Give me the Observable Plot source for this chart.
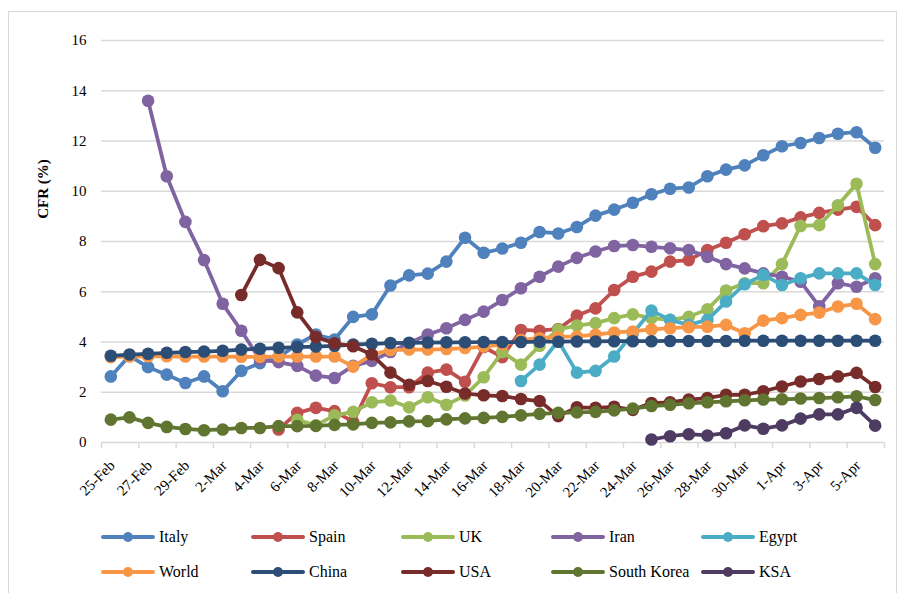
<!DOCTYPE html>
<html><head><meta charset="utf-8">
<script src="https://cdn.jsdelivr.net/npm/d3@7"></script>
<script src="https://cdn.jsdelivr.net/npm/@observablehq/plot@0.6"></script>
<style>
body{margin:0;background:#fff;}
#wrap{position:relative;width:903px;height:593px;overflow:hidden;font-family:"Liberation Serif",serif;background:#fff;}
#frame{position:absolute;left:8px;top:11px;width:889px;height:640px;border:1.5px solid #d9d9d9;box-sizing:border-box;}
#chart{position:absolute;left:0;top:0;}
#ylabel{position:absolute;left:43px;top:189px;transform:translate(-50%,-50%) rotate(-90deg);font-weight:bold;font-size:15px;white-space:nowrap;color:#000;}
.item{position:absolute;display:flex;align-items:center;font-size:16px;color:#000;transform:translateY(-50%);white-space:nowrap;}
.item svg{margin-right:3px;}
</style></head><body>
<div id="wrap"><div id="frame"></div><div id="chart"></div><div id="ylabel">CFR (%)</div><div id="legend"></div></div>
<script>
const dates = ["25-Feb","26-Feb","27-Feb","28-Feb","29-Feb",
  "1-Mar","2-Mar","3-Mar","4-Mar","5-Mar","6-Mar","7-Mar","8-Mar","9-Mar","10-Mar",
  "11-Mar","12-Mar","13-Mar","14-Mar","15-Mar","16-Mar","17-Mar","18-Mar","19-Mar","20-Mar",
  "21-Mar","22-Mar","23-Mar","24-Mar","25-Mar","26-Mar","27-Mar","28-Mar","29-Mar","30-Mar","31-Mar",
  "1-Apr","2-Apr","3-Apr","4-Apr","5-Apr","6-Apr"];

const italy = [2.63,3.45,3.0,2.7,2.37,2.63,2.04,2.85,3.16,3.4,3.9,4.3,4.1,5.0,5.1,
  6.25,6.65,6.72,7.2,8.15,7.55,7.72,7.95,8.38,8.32,8.58,9.03,9.27,9.54,9.88,10.1,10.15,
  10.6,10.86,11.03,11.43,11.79,11.92,12.12,12.29,12.35,11.73];
const spain = [null,null,null,null,null,null,null,null,null,0.52,1.18,1.38,1.25,0.82,2.36,
  2.2,2.2,2.78,2.9,2.42,3.8,3.4,4.48,4.45,4.52,5.05,5.34,6.07,6.6,6.8,7.2,7.26,
  7.66,7.95,8.29,8.61,8.72,8.96,9.14,9.27,9.38,8.65];
const uk = [null,null,null,null,null,null,null,null,null,null,0.9,0.68,1.08,1.22,1.6,
  1.67,1.4,1.8,1.5,1.87,2.6,3.6,3.1,3.85,4.5,4.65,4.75,4.95,5.1,4.95,4.88,5.0,
  5.3,6.05,6.34,6.34,7.1,8.62,8.65,9.44,10.3,7.1];
const iran = [null,null,13.6,10.6,8.78,7.26,5.52,4.45,3.3,3.2,3.05,2.66,2.57,3.05,3.25,
  3.6,3.95,4.3,4.55,4.88,5.21,5.67,6.14,6.6,7.0,7.35,7.6,7.82,7.86,7.79,7.73,7.66,
  7.39,7.1,6.93,6.73,6.6,6.4,5.42,6.34,6.2,6.54];
const egypt = [null,null,null,null,null,null,null,null,null,null,null,null,null,null,null,
  null,null,null,null,null,null,null,2.45,3.1,4.05,2.78,2.85,3.42,4.35,5.25,4.88,4.68,
  4.88,5.61,6.3,6.67,6.27,6.54,6.73,6.73,6.73,6.27];
const world = [3.4,3.42,3.43,3.43,3.42,3.42,3.42,3.41,3.41,3.42,3.42,3.42,3.42,3.02,3.5,
  3.68,3.7,3.7,3.72,3.76,3.82,3.9,4.08,4.15,4.2,4.22,4.29,4.38,4.42,4.5,4.55,4.59,
  4.61,4.68,4.35,4.85,4.95,5.08,5.17,5.41,5.52,4.91];
const china = [3.45,3.5,3.53,3.57,3.6,3.62,3.65,3.7,3.73,3.77,3.8,3.82,3.85,3.9,3.93,
  3.96,3.97,3.98,3.99,3.99,4.0,4.0,4.0,4.01,4.01,4.02,4.02,4.03,4.03,4.03,4.04,4.04,
  4.04,4.04,4.05,4.05,4.05,4.05,4.05,4.05,4.05,4.05];
const usa = [null,null,null,null,null,null,null,5.87,7.27,6.94,5.18,4.2,3.95,3.83,3.5,
  2.78,2.3,2.45,2.22,1.95,1.88,1.85,1.73,1.65,1.05,1.4,1.38,1.42,1.3,1.57,1.6,1.71,
  1.77,1.9,1.9,2.04,2.23,2.43,2.53,2.63,2.77,2.21];
const southKorea = [0.91,1.0,0.78,0.62,0.54,0.49,0.52,0.58,0.58,0.65,0.65,0.66,0.7,0.72,0.78,
  0.8,0.84,0.85,0.92,0.96,0.98,1.02,1.08,1.14,1.18,1.2,1.22,1.28,1.35,1.45,1.5,1.56,
  1.6,1.64,1.68,1.71,1.72,1.75,1.77,1.8,1.84,1.69];
const ksa = [null,null,null,null,null,null,null,null,null,null,null,null,null,null,null,
  null,null,null,null,null,null,null,null,null,null,null,null,null,null,0.12,0.25,0.33,
  0.28,0.37,0.68,0.55,0.68,0.95,1.12,1.12,1.38,0.67];

const seriesNames = ["Italy","Spain","UK","Iran","Egypt","World","China","USA","South Korea","KSA"];
const seriesColors = ["#4F81BD","#C0504D","#9BBB59","#8064A2","#4BACC6","#F79646","#2C4D75","#772C2A","#5F7530","#4D3B62"];
const seriesValues = [italy, spain, uk, iran, egypt, world, china, usa, southKorea, ksa];
const yTicks = [0,2,4,6,8,10,12,14,16];

const idx = dates.map((d, i) => i);
const labelIdx = idx.filter(i => i % 2 === 0);
const boundaries = labelIdx.map(i => i - 0.5).concat([dates.length - 0.5]);

const seriesMarks = seriesValues.flatMap((vals, k) => {
  const data = idx.filter(i => vals[i] != null).map(i => ({i, v: vals[i]}));
  return [
    Plot.line(data, {x: "i", y: "v", stroke: seriesColors[k], strokeWidth: 3.75, strokeLinejoin: "round", strokeLinecap: "round"}),
    Plot.dot(data, {x: "i", y: "v", r: 6.3, fill: seriesColors[k], stroke: null})
  ];
});

const chart = Plot.plot({
  width: 903,
  height: 505,
  marginLeft: 101,
  marginRight: 19,
  marginTop: 40,
  marginBottom: 63,
  style: {fontFamily: "Liberation Serif, serif", fontSize: "15px", color: "#000", background: "transparent"},
  x: {type: "linear", domain: [-0.5, dates.length - 0.5], axis: null},
  y: {domain: [0, 16], axis: null},
  marks: [
    Plot.gridY(yTicks.filter(v => v > 0), {stroke: "#d9d9d9", strokeOpacity: 1, strokeWidth: 1.4}),
    Plot.axisY(yTicks, {tickSize: 0, tickPadding: 15, label: null, fontSize: 15}),
    Plot.ruleY([0], {stroke: "#d9d9d9", strokeWidth: 1.5}),
    Plot.axisX(boundaries, {tickSize: 6, tickFormat: () => "", stroke: "#d9d9d9", strokeWidth: 1.4, label: null}),
    Plot.text(labelIdx, {x: d => d, text: d => dates[d], frameAnchor: "bottom", rotate: -45, textAnchor: "end", dx: 5, dy: 24, fontSize: 15, fill: "#000"}),
    ...seriesMarks
  ]
});
document.getElementById("chart").appendChild(chart);

const legend = document.getElementById("legend");
seriesNames.forEach((name, k) => {
  const row = Math.floor(k / 5), col = k % 5;
  const el = document.createElement("div");
  el.className = "item";
  el.style.left = (100 + col * 150) + "px";
  el.style.top = (537 + row * 35) + "px";
  el.innerHTML = `<svg width="56" height="14"><line x1="3" y1="7" x2="53" y2="7" stroke="${seriesColors[k]}" stroke-width="4" stroke-linecap="round"/><circle cx="28" cy="7" r="5" fill="${seriesColors[k]}"/></svg>`;
  const t = document.createElement("span");
  t.textContent = name;
  el.appendChild(t);
  legend.appendChild(el);
});
</script>
</body></html>
